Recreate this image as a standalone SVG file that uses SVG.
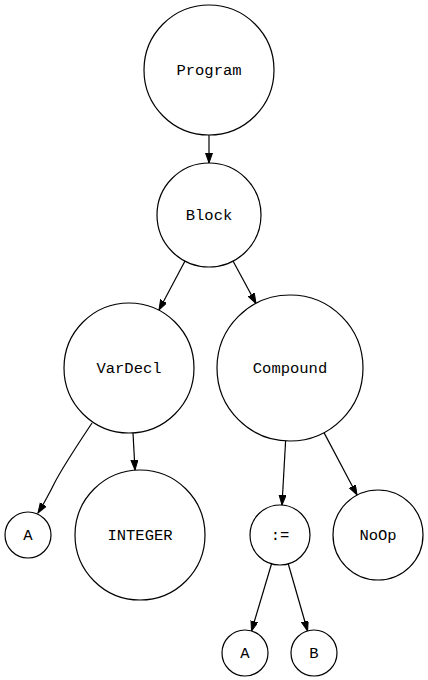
<svg xmlns="http://www.w3.org/2000/svg" width="428" height="680" viewBox="0 0 428 680">
<style>
.node circle{fill:#fff;stroke:#000;stroke-width:1.2}
.node text{font-family:"Liberation Mono","Courier New",monospace;font-size:15.5px;fill:#000;text-anchor:middle;dominant-baseline:central}
.edges path{fill:none;stroke:#000;stroke-width:1.2}
</style>
<defs>
<marker id="ah" markerUnits="userSpaceOnUse" markerWidth="12" markerHeight="10" refX="10" refY="3.5" orient="auto">
<path d="M0,0 L10,3.5 L0,7 Z" fill="#000" stroke="#000" stroke-width="1"/>
</marker>
</defs>
<rect width="428" height="680" fill="#fff"/>
<g class="edges">
<path d="M209,135 L209,163" marker-end="url(#ah)"/>
<path d="M185,261 L159,310" marker-end="url(#ah)"/>
<path d="M233,261 L256,303.5" marker-end="url(#ah)"/>
<path d="M92,423 C78,444 62,468 54,484 C48,496 43,505 38,513" marker-end="url(#ah)"/>
<path d="M133,433 L135,470" marker-end="url(#ah)"/>
<path d="M285.6,441 L282,505" marker-end="url(#ah)"/>
<path d="M324,432.6 L357,495" marker-end="url(#ah)"/>
<path d="M271.5,564 L251.5,631" marker-end="url(#ah)"/>
<path d="M288.3,564 L307.6,631" marker-end="url(#ah)"/>
</g>
<g id="program" class="node"><circle cx="209" cy="70" r="65"/><text x="209" y="71">Program</text></g>
<g id="block" class="node"><circle cx="209" cy="215" r="52"/><text x="209" y="216">Block</text></g>
<g id="vardecl" class="node"><circle cx="129" cy="368" r="65"/><text x="129" y="369">VarDecl</text></g>
<g id="compound" class="node"><circle cx="290" cy="368" r="73"/><text x="290" y="369">Compound</text></g>
<g id="a1" class="node"><circle cx="28" cy="535" r="23"/><text x="28" y="536">A</text></g>
<g id="integer" class="node"><circle cx="140" cy="535" r="65"/><text x="140" y="536">INTEGER</text></g>
<g id="assign" class="node"><circle cx="280" cy="535" r="30"/><text x="280" y="536">:=</text></g>
<g id="noop" class="node"><circle cx="378" cy="535" r="45"/><text x="378" y="536">NoOp</text></g>
<g id="a2" class="node"><circle cx="245" cy="653" r="23"/><text x="245" y="654">A</text></g>
<g id="b" class="node"><circle cx="314" cy="653" r="23"/><text x="314" y="654">B</text></g>
</svg>
